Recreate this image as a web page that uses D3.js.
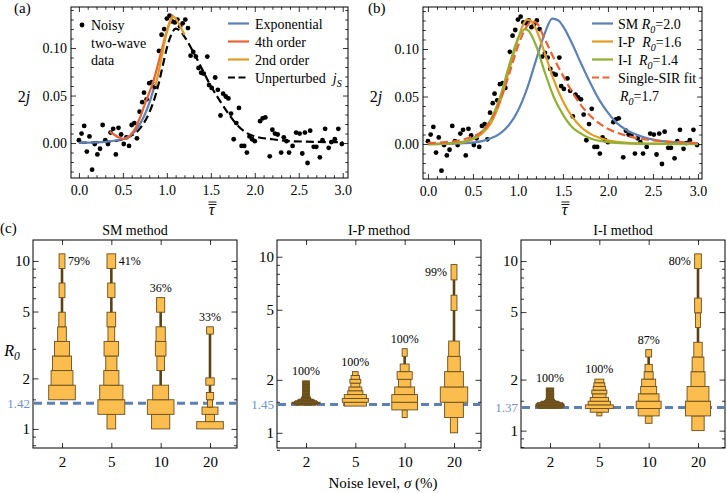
<!DOCTYPE html>
<html>
<head>
<meta charset="utf-8">
<script src="https://cdn.jsdelivr.net/npm/d3@7"></script>
<style>
  body { margin: 0; background: #fff; }
  svg, svg text { font-family: "Liberation Serif", "Times New Roman", serif; }
</style>
</head>
<body>
<svg id="chart" width="727" height="493"></svg>
<script>
// ---- data ----
// noisy two-wave data, [tau, 2j]
const obs = [[0.00,0.003],[0.03,0.010],[0.06,0.018],[0.09,-0.009],[0.12,0.007],[0.15,-0.028],[0.18,-0.001],
  [0.21,-0.012],[0.24,-0.006],[0.27,0.019],[0.30,0.003],[0.33,-0.001],[0.36,0.011],[0.39,0.015],[0.42,-0.012],
  [0.45,0.016],[0.48,0.009],[0.51,-0.001],[0.54,0.006],[0.57,-0.003],[0.60,0.019],[0.63,0.021],[0.66,0.005],
  [0.69,0.033],[0.72,0.043],[0.74,0.053],[0.77,0.046],[0.80,0.063],[0.83,0.064],[0.86,0.059],[0.91,0.097],
  [0.94,0.114],[0.97,0.120],[1.00,0.131],[1.03,0.134],[1.06,0.128],[1.09,0.127],[1.12,0.130],[1.15,0.123],
  [1.18,0.126],[1.21,0.130],[1.24,0.121],[1.27,0.092],[1.30,0.096],[1.33,0.091],[1.36,0.079],[1.39,0.074],
  [1.42,0.073],[1.46,0.091],[1.48,0.061],[1.51,0.058],[1.55,0.069],[1.58,0.056],[1.61,0.029],[1.64,0.052],
  [1.67,0.049],[1.70,0.047],[1.73,0.031],[1.76,0.004],[1.79,0.021],[1.82,0.037],[1.85,-0.003],[1.88,-0.003],
  [1.91,-0.010],[1.94,0.007],[1.97,0.004],[2.00,0.002],[2.06,0.023],[2.09,0.026],[2.12,0.027],[2.17,-0.014],
  [2.20,0.014],[2.23,0.010],[2.26,0.009],[2.30,-0.010],[2.33,0.006],[2.36,0.002],[2.39,-0.010],[2.43,-0.003],
  [2.47,0.011],[2.51,0.010],[2.54,-0.011],[2.57,0.011],[2.60,-0.021],[2.63,0.013],[2.67,-0.004],[2.70,-0.004],
  [2.74,-0.015],[2.77,0.003],[2.80,0.015],[2.84,-0.005],[2.87,0.001],[2.91,0.004],[2.95,0.015],[2.99,-0.001]];

// panel (a) curves
const expT = [0,0.1,0.2,0.3,0.4,0.5,0.55,0.6,0.65,0.7,0.75,0.8,0.85];
const expJ = [0.0002,0.0004,0.0007,0.0013,0.0024,0.0043,0.006,0.009,0.014,0.021,0.030,0.042,0.057];
const ord4T = [0.35,0.40,0.45,0.50,0.55,0.60,0.65,0.70,0.75,0.80,0.85,0.90,0.95,1.00,1.04,1.07];
const ord4J = [0.012,0.009,0.006,0.0045,0.005,0.010,0.017,0.028,0.041,0.053,0.066,0.083,0.101,0.118,0.129,0.135];
const ord2T = [0.87,0.90,0.95,1.00,1.04,1.07,1.10,1.14,1.18,1.20];
const ord2J = [0.060,0.072,0.095,0.117,0.128,0.133,0.131,0.125,0.118,0.114];
const jsT = [0,0.2,0.4,0.5,0.6,0.7,0.8,0.85,0.9,0.95,1.0,1.05,1.1,1.15,1.2,1.3,1.4,1.5,1.6,1.7,1.8,1.9,2.0,2.2,2.4,2.6,2.8,3.0];
const jsJ = [0.0003,0.0008,0.002,0.004,0.008,0.016,0.032,0.044,0.060,0.080,0.100,0.114,0.1205,0.118,0.112,0.096,0.078,0.060,0.045,0.031,0.019,0.011,0.007,0.004,0.002,0.0015,0.001,0.001];

// panel (b) curves
const smT = [0,0.2,0.4,0.6,0.7,0.8,0.9,1.0,1.1,1.2,1.3,1.38,1.45,1.5,1.6,1.7,1.8,1.9,2.0,2.1,2.2,2.4,2.6,2.8,3.0];
const smJ = [0,0.0002,0.0008,0.003,0.006,0.011,0.020,0.035,0.058,0.088,0.117,0.132,0.130,0.124,0.106,0.085,0.065,0.047,0.033,0.022,0.015,0.007,0.003,0.0015,0.0008];
const ipT = [0,0.2,0.4,0.5,0.6,0.7,0.8,0.9,1.0,1.05,1.1,1.15,1.2,1.3,1.4,1.5,1.6,1.7,1.8,2.0,2.2,2.5,3.0];
const ipJ = [0,0.0005,0.002,0.005,0.011,0.022,0.044,0.077,0.110,0.124,0.131,0.129,0.121,0.095,0.067,0.045,0.029,0.018,0.011,0.004,0.0015,0.0004,0.0001];
const iiT = [0,0.2,0.4,0.5,0.6,0.7,0.8,0.9,1.0,1.05,1.08,1.12,1.2,1.3,1.4,1.5,1.6,1.7,1.8,2.0,2.2,2.5,3.0];
const iiJ = [0,0.0006,0.0025,0.006,0.013,0.026,0.049,0.082,0.111,0.119,0.121,0.119,0.104,0.075,0.049,0.031,0.018,0.011,0.006,0.002,0.0007,0.0002,0];
const sirT = [0,0.2,0.4,0.5,0.6,0.7,0.8,0.9,1.0,1.1,1.15,1.2,1.3,1.4,1.5,1.6,1.7,1.8,1.9,2.0,2.2,2.4,2.6,2.8,3.0];
const sirJ = [0.001,0.002,0.005,0.008,0.013,0.025,0.045,0.073,0.103,0.124,0.129,0.128,0.110,0.090,0.072,0.055,0.041,0.030,0.022,0.016,0.009,0.005,0.003,0.002,0.001];

// panel (c): R0 histograms, bins in ln(R0): start, step, relative density per bin
const noiseLevels = ["2", "5", "10", "20"];
const smHist = [
  {start:0.4, step:0.2, dens:[0.95,0.78,0.68,0.54,0.31,0.23,0,0.21,0,0.21]},
  {start:0.0, step:0.2, dens:[0.31,0.96,0.83,0.54,0.40,0.52,0.24,0.31,0,0.26,0,0.31]},
  {start:0.0, step:0.2, dens:[0.65,0.95,0.57,0,0.27,0.38,0.33,0,0.29]},
  {start:0.0, step:0.1, dens:[0.95,0.32,0.57,0.18,0.26,0,0.30,0,0,0,0,0,0,0.24]}
];
const ipHist = [
  {start:0.36, step:0.01, dens:[0.72,0.82,1.0,1.0,0.82,0.76,0.61,0.52,0.36,0.32,0.29,0.27,
    0.24,0.24,0.24,0.24,0.24,0.24,0.24,0.24,0.24,0.24,0.24,0.24,0.24,0.24,0.24,0.24,0.24,0.24,0.24,0.24]},
  {start:0.35, step:0.05, dens:[0.79,0.93,0.79,0.54,0.46,0.32,0.39,0.30,0.20]},
  {start:0.2, step:0.1, dens:[0.18,0.92,0.92,0.71,0.44,0.54,0.32,0,0.18]},
  {start:0.0, step:0.2, dens:[0.26,0.67,0.98,0.67,0.45,0.38,0,0,0.21,0,0.21]}
];
const iiHist = [
  {start:0.30, step:0.01, dens:[0.80,0.92,1.0,1.0,1.0,1.0,0.95,0.90,0.70,0.60,0.40,0.33,0.29,0.27,
    0.26,0.26,0.26,0.26,0.26,0.26,0.26,0.26,0.26,0.26,0.26,0.26,0.26,0.26]},
  {start:0.20, step:0.05, dens:[0.18,0.65,1.0,0.80,0.65,0.48,0.54,0.44,0.39,0.32]},
  {start:0.1, step:0.1, dens:[0.24,0.75,0.89,0.74,0.57,0.50,0.32,0.26,0,0.21]},
  {start:0.0, step:0.2, dens:[0.44,0.90,0.78,0.50,0.42,0.30,0,0.18,0.24,0,0,0.24]}
];
const smPct = [79, 41, 36, 33];
const ipPct = [100, 100, 100, 99];
const iiPct = [100, 100, 87, 80];
const refR0 = [1.42, 1.45, 1.37];
const methodNames = ["SM method", "I-P method", "I-I method"];

// ---- styles ----
const SERIF = '"Liberation Serif", "Times New Roman", serif';
const NB = "\u00a0";
const C = {blue:"#5E81B5", orange:"#E19C24", green:"#8FB032", red:"#EB6235",
           box:"#FBBE4E", boxLine:"#6A4E1C", stem:"#5A4116", refLbl:"#6F93C9"};
const svg = d3.select("#chart");

function rich(g, x, y, parts, size, anchor) {
  const t = g.append("text").attr("x", x).attr("y", y).attr("font-size", size)
    .attr("text-anchor", anchor || "start").style("font-family", SERIF);
  let shift = 0;
  parts.forEach(p => {
    const s = t.append("tspan").text(p.t);
    if (p.i) s.attr("font-style", "italic");
    if (p.sub) { s.attr("font-size", size * 0.72).attr("dy", 4 - shift); shift = 4; }
    else if (shift) { s.attr("dy", -shift); shift = 0; }
  });
  return t;
}

function styleAxis(a, size) {
  a.select(".domain").remove();
  a.style("font-family", SERIF);
  a.selectAll("line").attr("stroke", "#000").attr("stroke-width", 0.8);
  a.selectAll("text").attr("fill", "#000").style("font-family", SERIF).style("font-size", (size || 14) + "px");
}

// frame with ticks on all sides (panels a, b)
function linePanel(box, xDom, yDom) {
  const x = d3.scaleLinear().domain(xDom).range([box.x0, box.x1]);
  const y = d3.scaleLinear().domain(yDom).range([box.y1, box.y0]);
  const g = svg.append("g");
  const xMaj = d3.range(0, 3.01, 0.5);
  const xMin = d3.range(0, 31).map(i => i / 10).filter(v => Math.abs(v * 2 - Math.round(v * 2)) > 1e-6);
  const yMaj = [0, 0.05, 0.10];
  const yMin = d3.range(-3, 15).map(i => i / 100).filter(v => v >= yDom[0] && v <= yDom[1] && Math.abs(v * 20 - Math.round(v * 20)) > 1e-6);
  [[d3.axisBottom, box.y1, true], [d3.axisTop, box.y0, false]].forEach(([ax, pos, lab]) => {
    styleAxis(g.append("g").attr("transform", `translate(0,${pos})`).call(ax(x).tickValues(xMin).tickSize(-2.8).tickFormat("")));
    styleAxis(g.append("g").attr("transform", `translate(0,${pos})`)
      .call(ax(x).tickValues(xMaj).tickSize(-5).tickPadding(7).tickFormat(lab ? d3.format(".1f") : "")));
  });
  [[d3.axisLeft, box.x0, true], [d3.axisRight, box.x1, false]].forEach(([ax, pos, lab]) => {
    styleAxis(g.append("g").attr("transform", `translate(${pos},0)`).call(ax(y).tickValues(yMin).tickSize(-2.8).tickFormat("")));
    styleAxis(g.append("g").attr("transform", `translate(${pos},0)`)
      .call(ax(y).tickValues(yMaj).tickSize(-5).tickPadding(4).tickFormat(lab ? d3.format(".2f") : "")));
  });
  g.append("rect").attr("x", box.x0).attr("y", box.y0).attr("width", box.x1 - box.x0)
    .attr("height", box.y1 - box.y0).attr("fill", "none").attr("stroke", "#000").attr("stroke-width", 1);
  // labels
  rich(g, box.x0 - 47, 102, [{t:"2"}, {t:"j", i:true}], 16, "middle");
  const cx = (box.x0 + box.x1) / 2 + 2;
  g.append("text").attr("x", cx).attr("y", 215).attr("font-size", 16).attr("font-style", "italic")
    .attr("text-anchor", "middle").style("font-family", SERIF).text("τ");
  [202, 204.5].forEach(yy => g.append("line").attr("x1", cx - 3).attr("x2", cx + 5).attr("y1", yy).attr("y2", yy)
    .attr("stroke", "#000").attr("stroke-width", 0.9));
  const clip = "clip" + box.x0;
  svg.append("clipPath").attr("id", clip).append("rect").attr("x", box.x0).attr("y", box.y0)
    .attr("width", box.x1 - box.x0).attr("height", box.y1 - box.y0);
  const plot = g.append("g").attr("clip-path", `url(#${clip})`);
  plot.selectAll("circle").data(obs).join("circle")
    .attr("cx", d => x(d[0])).attr("cy", d => y(d[1])).attr("r", 2.4).attr("fill", "#000");
  return {x, y, g, plot};
}

function curve(p, ts, js, color, dash) {
  const line = d3.line().x(d => p.x(d[0])).y(d => p.y(d[1])).curve(d3.curveMonotoneX);
  p.plot.append("path").datum(ts.map((t, i) => [t, js[i]])).attr("d", line)
    .attr("fill", "none").attr("stroke", color).attr("stroke-width", 2.2)
    .attr("stroke-dasharray", dash || null);
}

// ---- panel (a) ----
const pa = linePanel({x0:71, x1:348, y0:7, y1:178}, [-0.09, 3.06], [-0.0368, 0.1432]);
curve(pa, jsT, jsJ, "#000", "8,4");
curve(pa, expT, expJ, C.blue);
curve(pa, ord4T, ord4J, C.red);
curve(pa, ord2T, ord2J, C.orange);
rich(svg, 14, 13, [{t:"(a)"}], 15);
pa.g.append("circle").attr("cx", 82).attr("cy", 25).attr("r", 2.4);
["Noisy", "two-wave", "data"].forEach((s, i) => rich(pa.g, 91, 30 + i * 17.5, [{t:s}], 14));
const legA = [
  {c:C.blue, parts:[{t:"Exponential"}]},
  {c:C.red, parts:[{t:"4th order"}]},
  {c:C.orange, parts:[{t:"2nd order"}]},
  {c:"#000", dash:"7,3.5", parts:[{t:"Unperturbed" + NB + NB}, {t:"j", i:true}, {t:"S", i:true, sub:true}]}
];
legA.forEach((d, i) => {
  const yy = 23.5 + i * 18;
  pa.g.append("line").attr("x1", 228).attr("x2", 249).attr("y1", yy).attr("y2", yy)
    .attr("stroke", d.c).attr("stroke-width", 2.2).attr("stroke-dasharray", d.dash || null);
  rich(pa.g, 255, yy + 5, d.parts, 14);
});

// ---- panel (b) ----
const pb = linePanel({x0:423, x1:702, y0:7, y1:179}, [-0.055, 3.045], [-0.0368, 0.1442]);
curve(pb, smT, smJ, C.blue);
curve(pb, ipT, ipJ, C.orange);
curve(pb, iiT, iiJ, C.green);
curve(pb, sirT, sirJ, C.red, "8,4");
rich(svg, 368, 13, [{t:"(b)"}], 15);
const legB = [
  {c:C.blue, parts:[{t:"SM" + NB}, {t:"R", i:true}, {t:"0", i:true, sub:true}, {t:"=2.0"}]},
  {c:C.orange, parts:[{t:"I-P" + NB + NB}, {t:"R", i:true}, {t:"0", i:true, sub:true}, {t:"=1.6"}]},
  {c:C.green, parts:[{t:"I-I" + NB + NB}, {t:"R", i:true}, {t:"0", i:true, sub:true}, {t:"=1.4"}]},
  {c:C.red, dash:"7,3.5", parts:[{t:"Single-SIR fit"}]}
];
legB.forEach((d, i) => {
  const yy = 23.5 + i * 18;
  pb.g.append("line").attr("x1", 592).attr("x2", 613).attr("y1", yy).attr("y2", yy)
    .attr("stroke", d.c).attr("stroke-width", 2.2).attr("stroke-dasharray", d.dash || null);
  rich(pb.g, 618, yy + 5, d.parts, 14);
});
rich(pb.g, 620, 101, [{t:"R", i:true}, {t:"0", i:true, sub:true}, {t:"=1.7"}], 14);

// ---- panel (c) ----
const cTop = 240, cBot = 448, cW = 204;
const cLeft = [33, 277, 521];
const cDom = [[0.77, 13.33], [0.82, 12.45], [0.79, 13.31]];
const hists = [smHist, ipHist, iiHist];
const pcts = [smPct, ipPct, iiPct];
const wScale = d3.scaleLinear().domain([0, 1]).range([0, 28]);

rich(svg, 0, 233, [{t:"(c)"}], 15);

cLeft.forEach((x0, p) => {
  const g = svg.append("g");
  const x = d3.scalePoint().domain(noiseLevels).range([x0 + 29, x0 + 177]);
  const y = d3.scaleLog().domain(cDom[p]).range([cBot, cTop]);
  const yMaj = [1, 2, 5, 10], yMin = [0.8, 0.9, 1.5, 3, 4, 6, 7, 8, 9];
  [[d3.axisLeft, x0, true], [d3.axisRight, x0 + cW, false]].forEach(([ax, pos, lab]) => {
    styleAxis(g.append("g").attr("transform", `translate(${pos},0)`).call(ax(y).tickValues(yMin).tickSize(-3).tickFormat("")));
    styleAxis(g.append("g").attr("transform", `translate(${pos},0)`)
      .call(ax(y).tickValues(yMaj).tickSize(-5.5).tickPadding(3).tickFormat(lab ? d3.format("d") : "")), 15);
  });
  [[d3.axisBottom, cBot, true], [d3.axisTop, cTop, false]].forEach(([ax, pos, lab]) => {
    styleAxis(g.append("g").attr("transform", `translate(0,${pos})`)
      .call(ax(x).tickSize(-5).tickPadding(8).tickFormat(lab ? (d => d) : "")), 15);
  });
  g.append("rect").attr("x", x0).attr("y", cTop).attr("width", cW).attr("height", cBot - cTop)
    .attr("fill", "none").attr("stroke", "#000").attr("stroke-width", 1);
  rich(g, x0 + cW / 2, 235, [{t:methodNames[p]}], 14, "middle");

  // reference R0
  g.append("line").attr("x1", x0 + 1).attr("x2", x0 + cW - 1).attr("y1", y(refR0[p])).attr("y2", y(refR0[p]))
    .attr("stroke", C.blue).attr("stroke-width", 3).attr("stroke-dasharray", "8,5");
  rich(g, x0 - 3, y(refR0[p]) + 4.5, [{t:refR0[p].toFixed(2)}], 13, "end").attr("fill", C.refLbl);

  hists[p].forEach((h, c) => {
    const cx = x(noiseLevels[c]);
    const bins = h.dens.map((d, i) => ({d, lo: Math.exp(h.start + i * h.step), hi: Math.exp(h.start + (i + 1) * h.step)}))
      .filter(b => b.d > 0);
    const lo = d3.min(bins, b => b.lo), hi = d3.max(bins, b => b.hi);
    g.append("line").attr("x1", cx).attr("x2", cx).attr("y1", y(lo)).attr("y2", y(hi))
      .attr("stroke", C.stem).attr("stroke-width", 2.6);
    g.selectAll(null).data(bins).join("rect")
      .attr("x", b => cx - wScale(b.d) / 2).attr("width", b => wScale(b.d))
      .attr("y", b => y(b.hi)).attr("height", b => y(b.lo) - y(b.hi))
      .attr("fill", C.box).attr("stroke", C.boxLine).attr("stroke-width", 0.9);
    // percentage label
    const top = bins[bins.length - 1];
    const yTop = y(top.hi);
    const lbl = rich(g, 0, 0, [{t:pcts[p][c] + "%"}], 12);
    if (yTop - cTop < 35) {
      const yc = (y(top.hi) + y(top.lo)) / 2 + 4;
      if (c < 3) lbl.attr("x", cx + wScale(top.d) / 2 + 3).attr("y", yc);
      else lbl.attr("x", cx - wScale(top.d) / 2 - 4).attr("y", yc).attr("text-anchor", "end");
    } else {
      lbl.attr("x", cx).attr("y", yTop - 6).attr("text-anchor", "middle");
    }
  });
});

rich(svg, 12, 356, [{t:"R", i:true}, {t:"0", i:true, sub:true}], 16, "middle");
rich(svg, 383, 488, [{t:"Noise level," + NB}, {t:"σ", i:true}, {t:NB + "(%)"}], 15, "middle");
</script>
</body>
</html>
